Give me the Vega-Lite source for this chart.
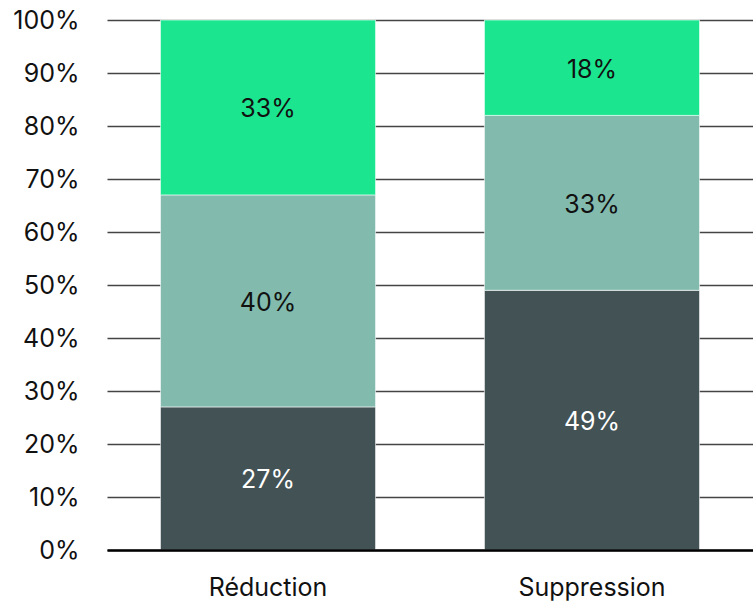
{
  "$schema": "https://vega.github.io/schema/vega-lite/v6.json",
  "width": 646,
  "height": 530,
  "autosize": {"type": "none"},
  "padding": {"left": 107, "top": 20, "right": 0, "bottom": 53},
  "config": {
    "view": {"stroke": null},
    "font": "Inter",
    "axis": {"labelFont": "Inter", "labelFontSize": 25, "labelColor": "#111111"}
  },
  "data": {
    "values": [
      {"categorie": "Réduction", "segment": "a", "ordre": 1, "valeur": 27},
      {"categorie": "Réduction", "segment": "b", "ordre": 2, "valeur": 40},
      {"categorie": "Réduction", "segment": "c", "ordre": 3, "valeur": 33},
      {"categorie": "Suppression", "segment": "a", "ordre": 1, "valeur": 49},
      {"categorie": "Suppression", "segment": "b", "ordre": 2, "valeur": 33},
      {"categorie": "Suppression", "segment": "c", "ordre": 3, "valeur": 18}
    ]
  },
  "transform": [
    {"stack": "valeur", "groupby": ["categorie"], "sort": [{"field": "ordre", "order": "ascending"}], "as": ["y0", "y1"]},
    {"calculate": "(datum.y0 + datum.y1) / 2", "as": "ymid"},
    {"calculate": "datum.valeur + '%'", "as": "etiquette"}
  ],
  "encoding": {
    "x": {
      "field": "categorie",
      "type": "nominal",
      "scale": {"paddingInner": 0.336, "paddingOuter": 0.165},
      "axis": {"title": null, "labelAngle": 0, "domain": true, "domainColor": "#000000", "domainWidth": 2.5, "ticks": false, "labelPadding": 25, "zindex": 2}
    }
  },
  "layer": [
    {
      "mark": {"type": "bar", "stroke": "#ffffff", "strokeWidth": 0.6},
      "encoding": {
        "y": {
          "field": "y0",
          "type": "quantitative",
          "scale": {"domain": [0, 100]},
          "axis": {
            "title": null,
            "values": [0, 10, 20, 30, 40, 50, 60, 70, 80, 90, 100],
            "labelExpr": "datum.value + '%'",
            "domain": false,
            "ticks": false,
            "grid": true,
            "gridColor": "#444444",
            "gridWidth": 1.5,
            "labelPadding": 28
          }
        },
        "y2": {"field": "y1"},
        "color": {
          "field": "segment",
          "type": "nominal",
          "scale": {"domain": ["a", "b", "c"], "range": ["#435254", "#82BBAD", "#1BE68F"]},
          "legend": null
        }
      }
    },
    {
      "mark": {"type": "text", "fontSize": 25, "font": "Inter", "baseline": "middle", "align": "center", "dy": 2},
      "encoding": {
        "y": {"field": "ymid", "type": "quantitative"},
        "text": {"field": "etiquette", "type": "nominal"},
        "color": {
          "condition": {"test": "datum.segment === 'a'", "value": "#ffffff"},
          "value": "#111111"
        }
      }
    }
  ]
}
